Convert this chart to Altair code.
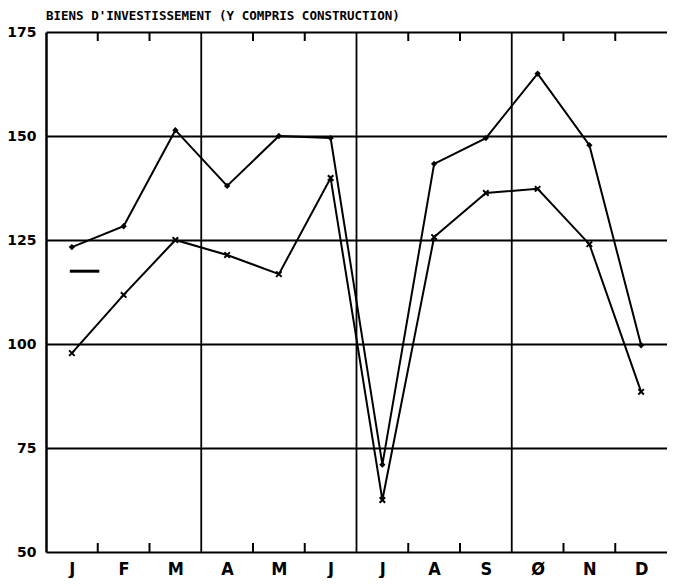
import altair as alt
import pandas as pd

months = ["J", "F", "M", "A", "M", "J", "J", "A", "S", "Ø", "N", "D"]
upper = [123.3, 128.3, 151.4, 138.0, 150.0, 149.5, 71.0, 143.3, 149.5, 165.0, 147.8, 99.7]
lower = [97.8, 111.8, 125.0, 121.4, 116.8, 139.9, 62.5, 125.7, 136.3, 137.3, 124.0, 88.5]
y_ticks = [50, 75, 100, 125, 150, 175]
major_lines = [3, 6, 9]
minor_ticks = [1, 2, 4, 5, 7, 8, 10, 11]
dash_x = [0.46, 1.03]
dash_y = 117.5
title = "BIENS D'INVESTISSEMENT (Y COMPRIS CONSTRUCTION)"

pos = [i + 0.5 for i in range(12)]
df = pd.DataFrame({
    "x": pos * 2,
    "v": upper + lower,
    "s": ["u"] * 12 + ["l"] * 12,
})

W, H = 621, 520
xs = alt.Scale(domain=[0, 12], nice=False, zero=False)
ys = alt.Scale(domain=[50, 175], nice=False, zero=False)

label_expr = "[" + ",".join("'" + m + "'" for m in months) + "][floor(datum.value)]"

base = alt.Chart(df)

lines = base.mark_line(color="black", strokeWidth=2).encode(
    x=alt.X("x:Q", scale=xs, axis=alt.Axis(values=pos, labelExpr=label_expr, tickSize=0, domain=False, grid=False,
                                          title=None, labelFontSize=18, labelFont="DejaVu Sans Condensed",
                                          labelFontWeight="bold", labelColor="black", labelPadding=8)),
    y=alt.Y("v:Q", scale=ys, axis=alt.Axis(values=y_ticks, grid=True, gridColor="black", gridWidth=2.2,
                                          gridOpacity=1, domain=True, domainColor="black", domainWidth=2.5,
                                          ticks=False, title=None,
                                          labelFontSize=14, labelFont="DejaVu Sans", labelFontWeight="bold",
                                          labelColor="black", labelPadding=10)),
    detail="s:N",
)

pts_u = alt.Chart(df[df.s == "u"]).mark_point(shape="diamond", filled=True, color="black", size=40, opacity=1).encode(
    x=alt.X("x:Q", scale=xs), y=alt.Y("v:Q", scale=ys))
pts_l = alt.Chart(df[df.s == "l"]).mark_point(shape="M-1,-1L1,1M-1,1L1,-1", filled=False, color="black",
                                             strokeWidth=2, size=30, opacity=1).encode(
    x=alt.X("x:Q", scale=xs), y=alt.Y("v:Q", scale=ys))

maj = alt.Chart(pd.DataFrame({"x": major_lines})).mark_rule(color="black", strokeWidth=1.8).encode(
    x=alt.X("x:Q", scale=xs))

ticks_df = pd.DataFrame({"x": minor_ticks})
tb = alt.Chart(ticks_df).mark_rule(color="black", strokeWidth=2).encode(
    x=alt.X("x:Q", scale=xs), y=alt.value(H), y2=alt.value(H - 9))
tt = alt.Chart(ticks_df).mark_rule(color="black", strokeWidth=2).encode(
    x=alt.X("x:Q", scale=xs), y=alt.value(0), y2=alt.value(9))

dash = alt.Chart(pd.DataFrame({"x": [dash_x[0]], "x2": [dash_x[1]], "y": [dash_y]})).mark_rule(
    color="black", strokeWidth=3).encode(x=alt.X("x:Q", scale=xs), x2="x2:Q", y=alt.Y("y:Q", scale=ys))

chart = alt.layer(maj, tb, tt, lines, pts_u, pts_l, dash).properties(
    width=W, height=H,
    autosize=alt.AutoSizeParams(type="none"),
    padding={"left": 38, "top": 24, "right": 0, "bottom": 26},
    title=alt.TitleParams(title, anchor="start", frame="group", font="DejaVu Sans Mono", fontSize=12.5,
                          fontWeight="bold", color="black", offset=3),
).configure_view(stroke="black", strokeWidth=2.5).configure(background="white")

chart.save("out.html", embed_options={"renderer": "svg", "actions": False})
